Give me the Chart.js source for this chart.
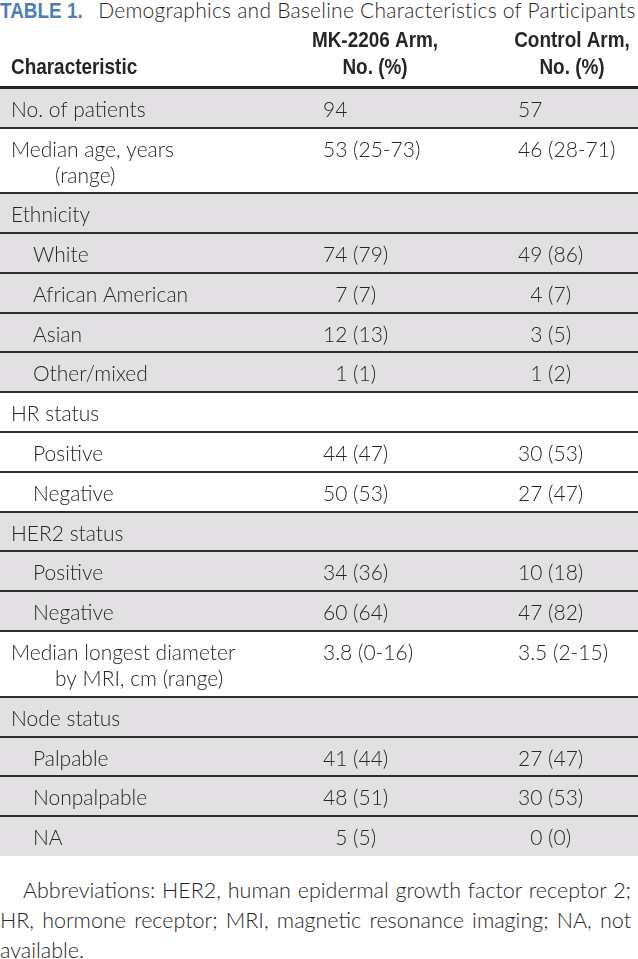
<!DOCTYPE html>
<html>
<head>
<meta charset="utf-8">
<script src="https://cdn.jsdelivr.net/npm/chart.js@4.4.1/dist/chart.umd.min.js"></script>
<style>
  html, body { margin: 0; padding: 0; background: #fff; }
  body { width: 638px; height: 959px; position: relative; overflow: hidden;
         font-family: Lato, "Liberation Sans", sans-serif; color: #262626; }
  #title { position: absolute; left: 0; top: -2px; white-space: nowrap; font-size: 21px;
           line-height: 24px; font-weight: 300; letter-spacing: 0.25px; }
  #title b { display: inline-block; font-family: "Liberation Sans", sans-serif; font-weight: 700;
             color: #4d7fb5; font-size: 22px; letter-spacing: 0; transform: scaleX(0.86);
             transform-origin: 0 50%; margin-right: 2px; }
  #wrap { position: absolute; left: 0; top: 28px; width: 638px; height: 828px; }
  #note { position: absolute; left: 0; top: 875px; width: 631px; font-size: 21.5px;
          line-height: 30px; font-weight: 300; }
  #note span { display: block; text-align: justify; text-align-last: justify; white-space: nowrap; }
  #note span.last { text-align-last: left; }
</style>
</head>
<body>
<div id="title"><b>TABLE 1.</b>Demographics and Baseline Characteristics of Participants</div>
<div id="wrap"><canvas id="c"></canvas></div>
<div id="note">
  <span style="text-indent:23px">Abbreviations: HER2, human epidermal growth factor receptor 2;</span>
  <span>HR, hormone receptor; MRI, magnetic resonance imaging; NA, not</span>
  <span class="last">available.</span>
</div>
<script>
// ---- table content
const headers = ["Characteristic", "MK-2206 Arm,\nNo. (%)", "Control Arm,\nNo. (%)"];
const rowLabels = [
  "No. of patients", "Median age, years\n(range)", "Ethnicity", "White", "African American",
  "Asian", "Other/mixed", "HR status", "Positive", "Negative", "HER2 status", "Positive",
  "Negative", "Median longest diameter\nby MRI, cm (range)", "Node status", "Palpable",
  "Nonpalpable", "NA",
];
const rowIndent = [0, 0, 0, 1, 1, 1, 1, 0, 1, 1, 0, 1, 1, 0, 0, 1, 1, 1];
const rowShaded = [1, 0, 1, 1, 1, 1, 1, 0, 0, 0, 1, 1, 1, 0, 1, 1, 1, 1];
// "\u2007" = one figure-width pad, the way the source lines up the parentheses
const mkArm = [
  "94", "53 (25-73)", "", "74 (79)", "\u20077 (7)", "12 (13)", "\u20071 (1)", "", "44 (47)",
  "50 (53)", "", "34 (36)", "60 (64)", "3.8 (0-16)", "", "41 (44)", "48 (51)", "\u20075 (5)",
];
const controlArm = [
  "57", "46 (28-71)", "", "49 (86)", "\u20074 (7)", "\u20073 (5)", "\u20071 (2)", "", "30 (53)",
  "27 (47)", "", "10 (18)", "47 (82)", "3.5 (2-15)", "", "27 (47)", "30 (53)", "\u20070 (0)",
];

// ---- layout in "row units" (one single-line row = 1)
const HEAD = 1.5, DOUBLE = 1.65;
const rowH = rowLabels.map(l => (l.includes("\n") ? DOUBLE : 1));
const tops = [];
let acc = HEAD;
rowH.forEach(h => { tops.push(acc); acc += h; });
const TOTAL = acc;
const PXU = 828 / TOTAL;              // px per unit, only used for text offsets
const BASE = 29 / PXU, LINE = 26 / PXU;
const COL = { label: 11, sub: 33, wrap: 55, mk: 323, ctl: 518, mkHead: 375, ctlHead: 572 };

const BODY = '300 21px Lato, "Liberation Sans", sans-serif';
const BOLD = '700 22px "Liberation Sans", sans-serif';
const INK = "#262626";

const cells = [];
cells.push({ x: COL.label, y: 1.16, text: headers[0], font: BOLD, align: "left", narrow: true });
[[headers[1], COL.mkHead], [headers[2], COL.ctlHead]].forEach(([h, x]) => {
  h.split("\n").forEach((t, k) => cells.push({ x, y: 0.48 + k * 0.68, text: t, font: BOLD, align: "center", narrow: true }));
});
rowLabels.forEach((lab, i) => {
  lab.split("\n").forEach((t, k) => cells.push({
    x: k ? COL.wrap : (rowIndent[i] ? COL.sub : COL.label),
    y: tops[i] + BASE + k * LINE, text: t, font: BODY, align: "left",
  }));
  if (mkArm[i]) cells.push({ x: COL.mk, y: tops[i] + BASE, text: mkArm[i], font: BODY, align: "left" });
  if (controlArm[i]) cells.push({ x: COL.ctl, y: tops[i] + BASE, text: controlArm[i], font: BODY, align: "left" });
});

const tablePlugin = {
  id: "tableCells",
  beforeDraw(chart) {
    const { ctx, chartArea: a, scales: { y } } = chart;
    ctx.save();
    ctx.fillStyle = "#e2e0e3";
    rowShaded.forEach((s, i) => {
      if (!s) return;
      const y1 = y.getPixelForValue(tops[i]), y2 = y.getPixelForValue(tops[i] + rowH[i]);
      ctx.fillRect(a.left, y1, a.right - a.left, y2 - y1);
    });
    ctx.restore();
  },
  afterDatasetsDraw(chart) {
    const ctx = chart.ctx;
    const pts = chart.getDatasetMeta(0).data;
    ctx.fillStyle = INK;
    ctx.textBaseline = "alphabetic";
    cells.forEach((c, i) => {
      ctx.save();
      ctx.font = c.font;
      ctx.textAlign = c.align;
      let t = c.text, dx = 0;
      while (t.startsWith("\u2007")) { t = t.slice(1); dx += ctx.measureText("0").width; }
      ctx.translate(pts[i].x + dx, pts[i].y);
      if (c.narrow) ctx.scale(0.86, 1);   // condensed bold header face
      ctx.fillText(t, 0, 0);
      ctx.restore();
    });
  },
};

new Chart(document.getElementById("c"), {
  type: "scatter",
  data: { datasets: [{ data: cells.map(c => ({ x: c.x, y: c.y })), pointRadius: 0, pointHoverRadius: 0 }] },
  options: {
    responsive: true, maintainAspectRatio: false, animation: false,
    layout: { padding: 0 },
    events: [],
    plugins: { legend: { display: false }, tooltip: { enabled: false } },
    scales: {
      x: { type: "linear", min: 0, max: 638, display: false },
      y: {
        type: "linear", min: 0, max: TOTAL, reverse: true,
        afterBuildTicks: s => { s.ticks = tops.map(v => ({ value: v })); },
        ticks: { display: false },
        border: { display: false },
        grid: {
          drawTicks: false,
          color: c => (c.tick && c.tick.value === HEAD ? "#222" : "#2e2e2e"),
          lineWidth: c => (c.tick && c.tick.value === HEAD ? 3 : 2),
        },
      },
    },
  },
  plugins: [tablePlugin],
});
</script>
</body>
</html>
